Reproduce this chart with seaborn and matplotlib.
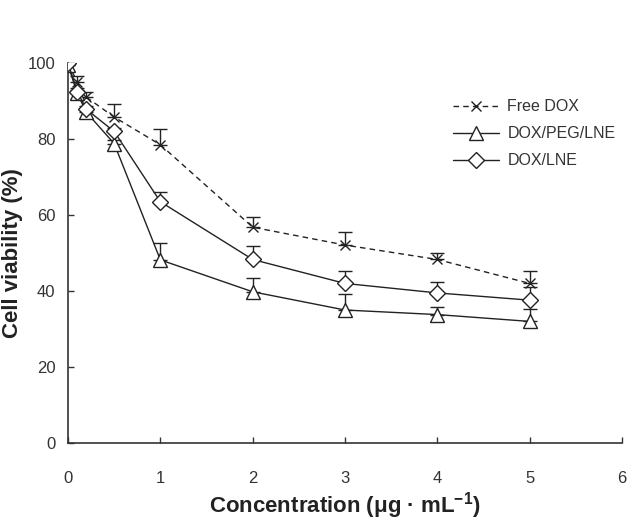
import seaborn as sns
import matplotlib.pyplot as plt
import pandas as pd
import numpy as np

# concentrations (ug/mL)
conc = [0, 0.1, 0.2, 0.5, 1, 2, 3, 4, 5]

# cell viability (%) and upper error bars
free_dox = [100, 95, 91, 85.8, 78.5, 56.8, 52.1, 48.3, 42]
free_dox_err = [0, 1.5, 1.5, 3.5, 4.2, 2.8, 3.4, 1.8, 3.4]
peg_lne = [99.5, 92, 87, 78.8, 48.2, 39.8, 35, 33.8, 32]
peg_lne_err = [0, 1, 1, 1, 4.4, 3.5, 4.2, 1.9, 3.4]
lne = [100, 92.5, 87.8, 82, 63.5, 48.3, 42, 39.5, 37.6]
lne_err = [0, 1, 1, 1, 2.6, 3.5, 3.3, 2.9, 3.4]

series = ["Free DOX", "DOX/PEG/LNE", "DOX/LNE"]

df = pd.DataFrame({
    "conc": conc * 3,
    "viab": free_dox + peg_lne + lne,
    "err": free_dox_err + peg_lne_err + lne_err,
    "grupo": [s for s in series for _ in conc],
})

sns.set_style("ticks")
plt.rcParams["font.family"] = ["Liberation Sans", "DejaVu Sans"]
plt.rcParams["mathtext.fontset"] = "custom"
plt.rcParams["mathtext.rm"] = "Liberation Sans"
plt.rcParams["mathtext.bf"] = "Liberation Sans:bold"

fig = plt.figure(figsize=(6.27, 5.24), dpi=100)
ax = fig.add_axes([0.1085, 0.1546, 0.8836, 0.725])

estilos = {
    "Free DOX": dict(ls=(0, (4, 3)), marker="x", ms=7),
    "DOX/PEG/LNE": dict(ls="-", marker="^", ms=10),
    "DOX/LNE": dict(ls="-", marker="D", ms=8),
}

# barras de erro (so para cima)
for s in series:
    d = df[df.grupo == s]
    ax.errorbar(d.conc, d.viab, yerr=[np.zeros(len(d)), d.err], fmt="none",
                ecolor="#222222", elinewidth=1, capsize=5, capthick=1, zorder=2)

for s in series:
    d = df[df.grupo == s]
    st = estilos[s]
    sns.lineplot(data=d, x="conc", y="viab", ax=ax, color="#222222", lw=1,
                 linestyle=st["ls"], marker=st["marker"], markersize=st["ms"],
                 markerfacecolor="white", markeredgecolor="#222222",
                 markeredgewidth=1, label=s, zorder=3)

ax.set_xlim(0, 6)
ax.set_ylim(0, 100)
ax.set_xticks(range(0, 7))
ax.set_yticks(range(0, 101, 20))
ax.tick_params(direction="in", length=4, width=1, labelsize=12, colors="#333333",
               labelcolor="#333333", pad=9)
ax.tick_params(axis="x", pad=20)
for sp in ["left", "bottom"]:
    ax.spines[sp].set_color("#333333")
    ax.spines[sp].set_linewidth(1.2)
sns.despine(ax=ax)

ax.set_xlabel("Concentration (\u03bcg \u00b7 mL$^{\\mathbf{-1}}$)", fontsize=16,
              fontweight="bold", color="#222222")
ax.xaxis.set_label_coords(0.5, -0.125)
ax.set_ylabel("Cell viability (%)", fontsize=16, fontweight="bold", color="#222222")
ax.yaxis.set_label_coords(-0.082, 0.5)

leg = ax.legend(loc="upper left", bbox_to_anchor=(0.695, 0.905), frameon=False,
                fontsize=11.5, handlelength=2.9, labelspacing=0.75, handletextpad=0.5,
                borderpad=0, borderaxespad=0)
for t in leg.get_texts():
    t.set_color("#333333")

plt.savefig("out.png", dpi=100)
